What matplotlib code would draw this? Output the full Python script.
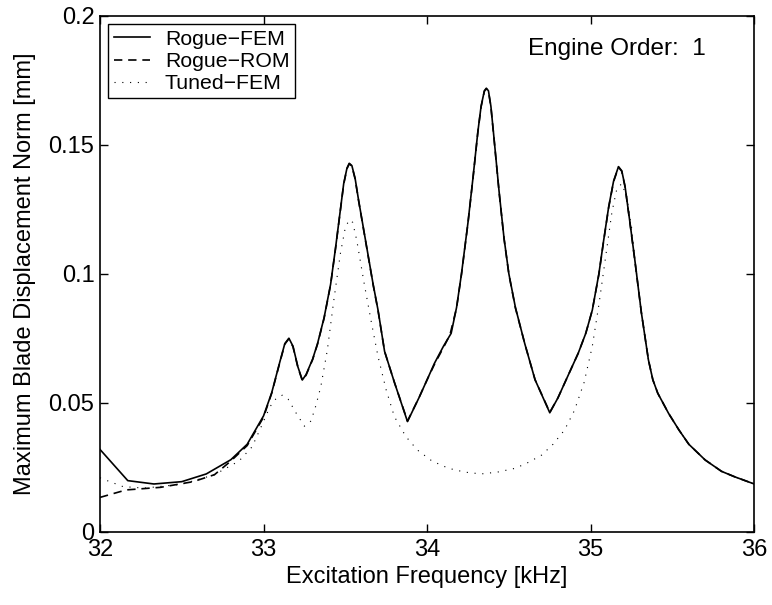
import numpy as np
import matplotlib.pyplot as plt

plt.rcParams['font.family'] = ['Liberation Sans', 'DejaVu Sans']

# Rogue-FEM (solid)
fem_f = [32.00, 32.17, 32.33, 32.50, 32.65, 32.80, 32.90, 33.00, 33.05, 33.10,
         33.13, 33.155, 33.18, 33.21, 33.237, 33.26, 33.30, 33.33, 33.37, 33.41,
         33.44, 33.47, 33.49, 33.51, 33.524, 33.54, 33.56, 33.58, 33.61, 33.64,
         33.67, 33.70, 33.74, 33.80, 33.88, 33.95, 34.00, 34.045, 34.10, 34.147,
         34.18, 34.21, 34.25, 34.28, 34.31, 34.33, 34.35, 34.362, 34.375, 34.39,
         34.41, 34.44, 34.47, 34.50, 34.54, 34.597, 34.66, 34.75, 34.80, 34.84,
         34.924, 34.97, 35.01, 35.05, 35.077, 35.11, 35.14, 35.17, 35.19, 35.21,
         35.24, 35.27, 35.31, 35.353, 35.38, 35.41, 35.476, 35.54, 35.60, 35.70,
         35.80, 35.88, 36.00]
fem_y = [0.0320, 0.0199, 0.0186, 0.0195, 0.0225, 0.0280, 0.0340, 0.0450, 0.0540, 0.0660,
         0.0730, 0.0751, 0.0720, 0.0640, 0.0589, 0.0610, 0.0670, 0.0730, 0.0830, 0.0960,
         0.1100, 0.1250, 0.1350, 0.1410, 0.1429, 0.1420, 0.1370, 0.1290, 0.1180, 0.1070,
         0.0960, 0.0860, 0.0700, 0.0580, 0.0428, 0.0520, 0.0590, 0.0654, 0.0720, 0.0770,
         0.0870, 0.1000, 0.1200, 0.1370, 0.1550, 0.1650, 0.1710, 0.1720, 0.1710, 0.1650,
         0.1520, 0.1320, 0.1140, 0.1000, 0.0870, 0.0730, 0.0590, 0.0462, 0.0520, 0.0576,
         0.0693, 0.0770, 0.0860, 0.1000, 0.1120, 0.1260, 0.1360, 0.1416, 0.1400, 0.1340,
         0.1200, 0.1054, 0.0850, 0.0667, 0.0590, 0.0538, 0.0460, 0.0395, 0.0340, 0.0279,
         0.0235, 0.0214, 0.0186]

# Rogue-ROM (dashed)
rom_f = [32.00, 32.16, 32.37, 32.57, 32.70, 32.80, 32.90, 33.00, 33.05, 33.10,
         33.13, 33.155, 33.18, 33.21, 33.237, 33.26, 33.30, 33.33, 33.37, 33.41,
         33.44, 33.47, 33.49, 33.51, 33.524, 33.54, 33.56, 33.58, 33.61, 33.64,
         33.67, 33.70, 33.74, 33.80, 33.88, 33.95, 34.00, 34.045, 34.10, 34.14,
         34.18, 34.21, 34.25, 34.28, 34.31, 34.33, 34.35, 34.362, 34.375, 34.39,
         34.41, 34.44, 34.47, 34.50, 34.54, 34.597, 34.66, 34.75, 34.80, 34.84,
         34.924, 34.97, 35.01, 35.05, 35.077, 35.11, 35.14, 35.17, 35.19, 35.21,
         35.24, 35.27, 35.31, 35.353, 35.38, 35.41, 35.476, 35.54, 35.60, 35.70,
         35.80, 35.88, 36.00]
rom_y = [0.0134, 0.0163, 0.0173, 0.0195, 0.0222, 0.0275, 0.0335, 0.0445, 0.0538, 0.0658,
         0.0728, 0.0749, 0.0718, 0.0638, 0.0587, 0.0608, 0.0668, 0.0728, 0.0828, 0.0958,
         0.1098, 0.1248, 0.1348, 0.1408, 0.1427, 0.1418, 0.1368, 0.1288, 0.1178, 0.1068,
         0.0958, 0.0858, 0.0700, 0.0580, 0.0430, 0.0520, 0.0590, 0.0650, 0.0715, 0.0765,
         0.0868, 0.0998, 0.1198, 0.1368, 0.1548, 0.1648, 0.1708, 0.1718, 0.1708, 0.1648,
         0.1518, 0.1318, 0.1138, 0.0998, 0.0868, 0.0730, 0.0590, 0.0464, 0.0520, 0.0576,
         0.0693, 0.0770, 0.0860, 0.0998, 0.1118, 0.1258, 0.1358, 0.1414, 0.1398, 0.1338,
         0.1198, 0.1052, 0.0850, 0.0667, 0.0590, 0.0538, 0.0460, 0.0395, 0.0340, 0.0279,
         0.0235, 0.0214, 0.0186]

# Tuned-FEM (dotted)
tun_f = [32.00, 32.04, 32.14, 32.27, 32.50, 32.70, 32.85, 32.93, 32.98, 33.04,
         33.08, 33.115, 33.15, 33.20, 33.25, 33.29, 33.32, 33.35, 33.39, 33.43,
         33.47, 33.50, 33.524, 33.545, 33.57, 33.615, 33.66, 33.70, 33.75, 33.80,
         33.87, 33.94, 34.03, 34.13, 34.23, 34.33, 34.43, 34.54, 34.62, 34.70,
         34.77, 34.84, 34.90, 34.96, 35.01, 35.05, 35.09, 35.13, 35.16, 35.19,
         35.22, 35.25, 35.27, 35.31, 35.353, 35.38, 35.41, 35.476, 35.54, 35.60,
         35.70, 35.80, 35.88, 36.00]
tun_y = [0.0210, 0.0200, 0.0176, 0.0170, 0.0185, 0.0222, 0.0275, 0.0330, 0.0400, 0.0486,
         0.0520, 0.0530, 0.0515, 0.0460, 0.0410, 0.0430, 0.0490, 0.0563, 0.0705, 0.0900,
         0.1080, 0.1180, 0.1210, 0.1200, 0.1130, 0.0964, 0.0810, 0.0680, 0.0550, 0.0447,
         0.0370, 0.0318, 0.0275, 0.0247, 0.0232, 0.0225, 0.0232, 0.0247, 0.0270, 0.0298,
         0.0340, 0.0395, 0.0470, 0.0580, 0.0720, 0.0880, 0.1060, 0.1240, 0.1330, 0.1350,
         0.1300, 0.1180, 0.1054, 0.0850, 0.0667, 0.0590, 0.0538, 0.0460, 0.0395, 0.0340,
         0.0279, 0.0235, 0.0214, 0.0186]

fig = plt.figure(figsize=(7.72, 6.05), dpi=100)
ax = fig.add_axes([0.1295, 0.1207, 0.8475, 0.8529])

ax.plot(fem_f, fem_y, '-', color='black', lw=1.2, label='Rogue\u2212FEM')
ax.plot(rom_f, rom_y, '--', color='black', lw=1.2, dashes=(5, 3.5), label='Rogue\u2212ROM')
ax.plot(tun_f, tun_y, ':', color='black', lw=0.8, dashes=(1, 6), label='Tuned\u2212FEM')

ax.set_xlim(32, 36)
ax.set_ylim(0, 0.2)
ax.set_xticks([32, 33, 34, 35, 36])
ax.set_xticklabels(['32', '33', '34', '35', '36'])
ax.set_yticks([0, 0.05, 0.1, 0.15, 0.2])
ax.set_yticklabels(['0', '0.05', '0.1', '0.15', '0.2'])
ax.tick_params(direction='in', top=True, right=True, length=6, width=1,
               labelsize=17)
ax.tick_params(axis='x', pad=5)
ax.tick_params(axis='y', pad=4)
for s in ax.spines.values():
    s.set_linewidth(1.2)

ax.set_xlabel('Excitation Frequency [kHz]', fontsize=17, labelpad=4)
ax.set_ylabel('Maximum Blade Displacement Norm [mm]', fontsize=17, labelpad=9)

ax.text(0.654, 0.925, 'Engine Order:  1', transform=ax.transAxes, fontsize=17.5)

leg = ax.legend(loc='upper left', fontsize=15.3, frameon=True, fancybox=False,
                edgecolor='black', framealpha=1, borderaxespad=0.4,
                handlelength=1.7, handletextpad=0.7, labelspacing=0.15,
                borderpad=0.25)
leg.get_frame().set_linewidth(1.0)

fig.savefig('out.png', dpi=100)
